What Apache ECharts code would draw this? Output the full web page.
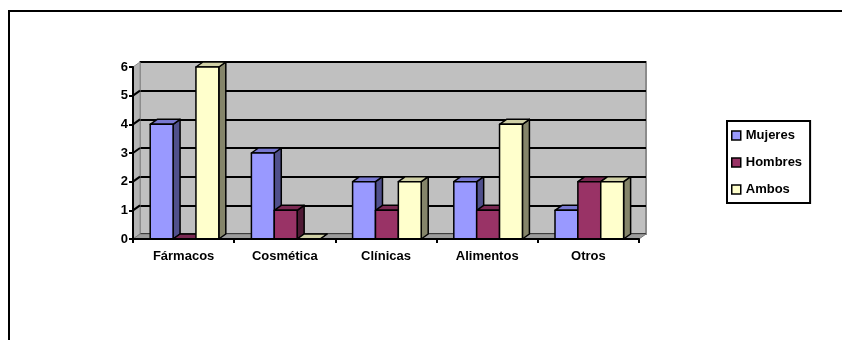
<!DOCTYPE html>
<html>
<head>
<meta charset="utf-8">
<style>
  html, body { margin: 0; padding: 0; background: #fff; }
  #chart { width: 842px; height: 340px; }
</style>
<script src="https://cdn.jsdelivr.net/npm/echarts@6/dist/echarts.min.js"></script>
</head>
<body>
<div id="chart"></div>
<script>
const categories = ["Fármacos", "Cosmética", "Clínicas", "Alimentos", "Otros"];
const mujeres = [4, 3, 2, 2, 1];
const hombres = [0, 1, 1, 1, 2];
const ambos = [6, 0, 2, 4, 2];
const yTicks = [0, 1, 2, 3, 4, 5, 6];

const FONT = "'Liberation Sans', Arial, sans-serif";
const DX = 7;
const DY = 5;

// front / side / top colours of each series
const palette = [
    { name: "Mujeres", front: "#9999ff", side: "#50508c", top: "#7878d0" },
    { name: "Hombres", front: "#993366", side: "#4f1a35", top: "#7a2952" },
    { name: "Ambos", front: "#ffffcc", side: "#85856a", top: "#d0d0a6" },
];

function barRenderer(si) {
    return (params, api) => {
        const cat = api.value(0);
        const val = api.value(1);
        const base = api.coord([cat, 0]);
        const top = api.coord([cat, val]);
        const band = api.size([1, 0])[0];
        const w = band * 0.226;
        const x0 = base[0] - band / 2 + band * 0.17 + si * w;
        const y0 = base[1];
        const y1 = top[1];
        const c = palette[si];
        const stroke = { stroke: "#000", lineWidth: 1.5, lineJoin: "round" };
        return {
            type: "group",
            children: [
                {
                    type: "polygon",
                    shape: { points: [[x0 + w, y0], [x0 + w + DX, y0 - DY], [x0 + w + DX, y1 - DY], [x0 + w, y1]] },
                    style: { fill: c.side, ...stroke },
                },
                {
                    type: "polygon",
                    shape: { points: [[x0, y1], [x0 + DX, y1 - DY], [x0 + w + DX, y1 - DY], [x0 + w, y1]] },
                    style: { fill: c.top, ...stroke },
                },
                {
                    type: "rect",
                    shape: { x: x0, y: y1, width: w, height: y0 - y1 },
                    style: { fill: c.front, ...stroke },
                },
            ],
        };
    };
}

// side wall, floor and the slanted tick connectors
function wallRenderer(params, api) {
    const n = categories.length;
    const bl = api.coord([0, 0]);
    const band = api.size([1, 0])[0];
    const left = bl[0] - band / 2;
    const right = left + band * n;
    const bottom = bl[1];
    const topY = api.coord([0, yTicks[yTicks.length - 1]])[1];
    const children = [
        {
            type: "polygon",
            shape: { points: [[left, bottom], [left + DX, bottom - DY], [left + DX, topY - DY], [left, topY]] },
            style: { fill: "#b4b4b4", stroke: "#8c8c8c", lineWidth: 1 },
        },
        {
            type: "polygon",
            shape: { points: [[left, bottom], [right, bottom], [right + DX, bottom - DY], [left + DX, bottom - DY]] },
            style: { fill: "#9c9c9c", stroke: "#7a7a7a", lineWidth: 1 },
        },
    ];
    yTicks.slice(1, -1).forEach((v) => {
        const y = api.coord([0, v])[1];
        children.push({
            type: "line",
            shape: { x1: left, y1: y, x2: left + DX, y2: y - DY },
            style: { stroke: "#000", lineWidth: 2 },
        });
    });
    return { type: "group", children };
}

const chart = echarts.init(document.getElementById("chart"));

chart.setOption({
    animation: false,
    backgroundColor: "#fff",
    textStyle: { fontFamily: FONT },
    graphic: [
        {
            type: "rect",
            shape: { x: 9, y: 11, width: 900, height: 400 },
            style: { fill: "none", stroke: "#000", lineWidth: 2 },
            silent: true,
        },
    ],
    legend: {
        orient: "vertical",
        left: 727,
        top: 121,
        padding: [7, 8, 6, 4],
        itemGap: 12,
        itemWidth: 9,
        itemHeight: 9,
        icon: "rect",
        borderColor: "#000",
        borderWidth: 2,
        itemStyle: { borderColor: "#000", borderWidth: 1.5 },
        textStyle: { fontFamily: FONT, fontSize: 13, fontWeight: "bold", color: "#000", lineHeight: 15 },
        data: palette.map((p) => p.name),
    },
    grid: [
        { left: 133, top: 67, width: 506, height: 172, show: false },
        {
            left: 140, top: 62, width: 506, height: 172, show: true,
            backgroundColor: "#c0c0c0", borderColor: "#8c8c8c", borderWidth: 2,
        },
    ],
    xAxis: [
        {
            type: "category",
            gridIndex: 0,
            data: categories,
            axisLine: { lineStyle: { color: "#000", width: 2 } },
            axisTick: { show: true, length: 4, lineStyle: { color: "#000", width: 2 } },
            axisLabel: { color: "#000", fontFamily: FONT, fontSize: 13, fontWeight: "bold", margin: 11 },
            z: 5,
        },
        { type: "category", gridIndex: 1, data: categories, show: false },
    ],
    yAxis: [
        {
            type: "value",
            gridIndex: 0,
            min: 0,
            max: 6,
            interval: 1,
            axisLine: { show: true, lineStyle: { color: "#000", width: 2 } },
            axisTick: { show: true, length: 4, lineStyle: { color: "#000", width: 2 } },
            axisLabel: { color: "#000", fontFamily: FONT, fontSize: 13, fontWeight: "bold", margin: 5 },
            splitLine: { show: false },
            z: 5,
        },
        {
            type: "value",
            gridIndex: 1,
            min: 0,
            max: 6,
            interval: 1,
            axisLine: { show: false },
            axisTick: { show: false },
            axisLabel: { show: false },
            splitLine: { show: true, lineStyle: { color: "#000", width: 2 } },
        },
    ],
    series: [
        {
            type: "custom",
            name: "wall",
            xAxisIndex: 0,
            yAxisIndex: 0,
            data: [[0, 0]],
            renderItem: wallRenderer,
            silent: true,
            z: 1,
        },
        ...[mujeres, hombres, ambos].map((vals, si) => ({
            type: "custom",
            name: palette[si].name,
            xAxisIndex: 0,
            yAxisIndex: 0,
            itemStyle: { color: palette[si].front },
            encode: { x: 0, y: 1 },
            data: vals.map((v, i) => [i, v]),
            renderItem: barRenderer(si),
            z: 2 + si,
        })),
    ],
});
</script>
</body>
</html>
